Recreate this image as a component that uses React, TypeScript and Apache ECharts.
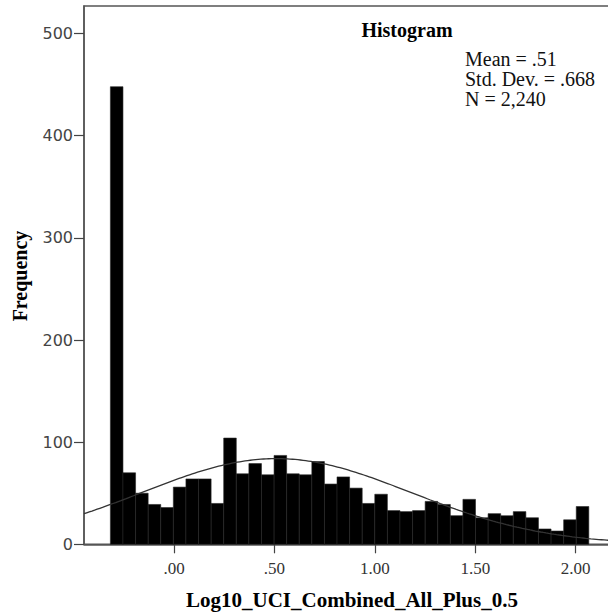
import React, { useEffect, useRef } from "react";
import * as echarts from "echarts";

// Histogram bin counts
const counts = [
  448, 70, 50, 39, 36, 56, 64, 64, 40, 104, 69, 79, 68, 87, 69, 68, 81, 59, 66,
  55, 40, 49, 33, 32, 33, 42, 39, 28, 44, 26, 30, 28, 32, 26, 15, 13, 24, 37,
];
const binStart = -0.317;
const binWidth = 0.0627;

// Reported statistics (fitted normal curve)
const statMean = 0.51;
const statSd = 0.668;
const statN = 2240;
const statLines = ["Mean = .51", "Std. Dev. = .668", "N = 2,240"];

// Axis ticks
const xTicks = [0, 0.5, 1, 1.5, 2];
const xTickLabels = [".00", ".50", "1.00", "1.50", "2.00"];
const yTicks = [0, 100, 200, 300, 400, 500];

const xMin = -0.4484;
const xMax = 2.181;
const yMax = 527;

const serif = "'Liberation Serif', 'Times New Roman', serif";

export default function App() {
  const ref = useRef<HTMLDivElement>(null);

  useEffect(() => {
    if (!ref.current) return;
    const chart = echarts.init(ref.current, undefined, { renderer: "svg" });

    const histData = counts.map((c, i) => [
      i,
      binStart + i * binWidth,
      binStart + (i + 1) * binWidth,
      c,
    ]);

    const curve: number[][] = [];
    const steps = 200;
    for (let k = 0; k <= steps; k++) {
      const x = xMin + ((xMax - xMin) * k) / steps;
      const z = (x - statMean) / statSd;
      const y =
        (statN * binWidth * Math.exp(-0.5 * z * z)) /
        (statSd * Math.sqrt(2 * Math.PI));
      curve.push([x, y]);
    }

    chart.setOption({
      animation: false,
      grid: {
        left: 84,
        top: 6,
        right: 8,
        bottom: 70.7,
        show: true,
        borderColor: "#555",
        borderWidth: 1.5,
        backgroundColor: "transparent",
      },
      xAxis: {
        type: "value",
        min: xMin,
        max: xMax,
        axisLine: { show: true, onZero: false, lineStyle: { color: "#555", width: 1.5 } },
        axisTick: {
          show: true,
          length: 9,
          customValues: xTicks,
          lineStyle: { color: "#444", width: 1.2 },
        },
        axisLabel: {
          customValues: xTicks,
          formatter: (v: number) => {
            const idx = xTicks.findIndex((t) => Math.abs(t - v) < 1e-6);
            return idx >= 0 ? xTickLabels[idx] : "";
          },
          fontFamily: serif,
          fontSize: 17,
          color: "#333",
          margin: 16,
        },
        splitLine: { show: false },
      },
      yAxis: {
        type: "value",
        min: 0,
        max: yMax,
        axisLine: { show: true, onZero: false, lineStyle: { color: "#555", width: 1.5 } },
        axisTick: {
          show: true,
          length: 10,
          customValues: yTicks,
          lineStyle: { color: "#444", width: 1.2 },
        },
        axisLabel: {
          customValues: yTicks,
          fontFamily: "'DejaVu Sans', sans-serif",
          fontSize: 16,
          color: "#444",
          margin: 11,
        },
        splitLine: { show: false },
      },
      series: [
        {
          type: "custom",
          data: histData,
          encode: { x: [1, 2], y: 3 },
          renderItem: (params: any, api: any) => {
            const p0 = api.coord([api.value(1), api.value(3)]);
            const p1 = api.coord([api.value(2), 0]);
            return {
              type: "rect",
              shape: {
                x: p0[0],
                y: p0[1],
                width: p1[0] - p0[0],
                height: p1[1] - p0[1],
              },
              style: { fill: "#000", stroke: "#262626", lineWidth: 0.6 },
            };
          },
          z: 2,
        },
        {
          type: "line",
          data: curve,
          showSymbol: false,
          smooth: false,
          lineStyle: { color: "#333", width: 1.3 },
          z: 3,
          clip: true,
        },
      ],
      graphic: [
        {
          type: "text",
          x: 407,
          y: 30,
          style: {
            text: "Histogram",
            font: `bold 20px ${serif}`,
            fill: "#000",
            align: "center",
            verticalAlign: "middle",
          },
        },
        ...statLines.map((t, i) => ({
          type: "text",
          x: 465,
          y: 59 + i * 20,
          style: {
            text: t,
            font: `20px ${serif}`,
            lineHeight: 20,
            fill: "#111",
            align: "left",
            verticalAlign: "middle",
          },
        })),
        {
          type: "text",
          x: 352,
          y: 600,
          style: {
            text: "Log10_UCI_Combined_All_Plus_0.5",
            font: `bold 21px ${serif}`,
            fill: "#000",
            align: "center",
            verticalAlign: "middle",
          },
        },
        {
          type: "text",
          x: 20,
          y: 276,
          rotation: Math.PI / 2,
          style: {
            text: "Frequency",
            font: `bold 20px ${serif}`,
            fill: "#000",
            align: "center",
            verticalAlign: "middle",
          },
        },
      ],
    });

    return () => chart.dispose();
  }, []);

  return (
    <div
      style={{
        position: "fixed",
        left: 0,
        top: 0,
        width: 608,
        height: 615,
        overflow: "hidden",
        background: "#fff",
      }}
    >
      <div ref={ref} style={{ width: 620, height: 615 }} />
    </div>
  );
}
